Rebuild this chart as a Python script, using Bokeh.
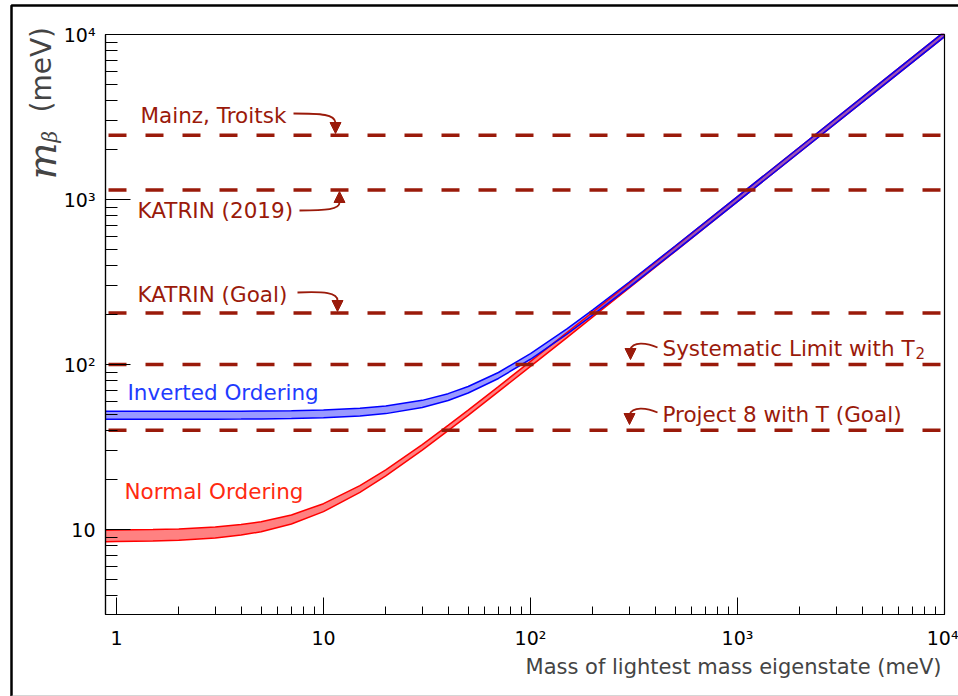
import math

from bokeh.embed import file_html
from bokeh.models import (Arrow, CustomJSTickFormatter, FixedTicker, BoxAnnotation,
                          Label, NormalHead, Range1d)
from bokeh.plotting import figure
from bokeh.resources import INLINE

# ---------------------------------------------------------------- data
# lightest neutrino mass (meV) at which the m_beta bands are sampled
m_light = [0.885, 1, 1.5, 2, 3, 4, 5, 7, 10, 15, 20, 30, 40, 50, 70, 100,
           150, 200, 300, 500, 1000, 2000, 5000, 9600, 10000]

# normal ordering band, lower / upper edge (meV)
no_low = [8.44, 8.46, 8.53, 8.62, 8.89, 9.25, 9.70, 10.80, 12.83, 16.80, 21.14,
          30.29, 39.70, 49.22, 68.42, 97.4, 145.7, 194.2, 291.1, 485.0, 970,
          1940, 4850, 9310, 9700]
no_high = [9.90, 9.92, 9.99, 10.08, 10.35, 10.71, 11.15, 12.26, 14.34, 18.46,
           23.02, 32.72, 42.75, 52.93, 73.47, 104.5, 156.3, 208.2, 312.2, 520,
           1040, 2080, 5200, 9990, 10000]

# inverted ordering band, lower / upper edge (meV)
io_low = [46.53, 46.53, 46.54, 46.56, 46.61, 46.68, 46.77, 47.01, 47.52, 48.74,
          50.40, 54.87, 60.58, 67.20, 82.31, 107.6, 152.8, 199.5, 294.7, 487.2,
          971.1, 1940.6, 4850, 9310, 9700]
io_high = [52.01, 52.01, 52.03, 52.04, 52.09, 52.17, 52.26, 52.51, 53.03, 54.29,
           56.00, 60.64, 66.59, 73.54, 89.46, 116.3, 164.4, 214.4, 316.3, 522.6,
           1041.3, 2080.6, 5200, 9990, 10000]

# experimental limits on m_beta (meV)
limit_names = ["Mainz, Troitsk", "KATRIN (2019)", "KATRIN (Goal)",
               "Systematic Limit with T", "Project 8 with T (Goal)"]
limit_values = [2450, 1140, 205, 100, 40]

x_major = [1, 10, 100, 1000, 10000]
x_minor = [k * d for d in (1, 10, 100, 1000) for k in range(2, 10)]
y_major = [10, 100, 1000, 10000]
y_minor = [k * d for d in (1, 10, 100, 1000) for k in range(2, 10) if k * d > 3.1]

# ---------------------------------------------------------------- geometry
W, H = 958, 696
X_LO, X_HI = 10 ** -0.053, 1e4               # axis extents of the plot box
Y_LO, Y_HI = 10 ** 0.485, 1e4
FL, FR, FT, FB = 105, 944, 34, 614           # plot box in page pixels


def px_x(px):
    """page pixel column -> x data value"""
    a, b = math.log10(X_LO), math.log10(X_HI)
    return 10 ** (a + (px - FL) / (FR - FL) * (b - a))


def px_y(py):
    """page pixel row -> y data value"""
    a, b = math.log10(Y_LO), math.log10(Y_HI)
    return 10 ** (b - (py - FT) / (FB - FT) * (b - a))


DARK_RED = "#9a1a0a"
SANS = "DejaVu Sans"
TXT = "21.5px"

# the canvas itself is the data frame; the axes sit on the plot box edges
p = figure(width=W, height=H, x_axis_type="log", y_axis_type="log",
           x_range=Range1d(px_x(0), px_x(W)), y_range=Range1d(px_y(H), px_y(0)),
           output_backend="svg", toolbar_location=None,
           min_border=0, min_border_left=0, min_border_right=0,
           min_border_top=0, min_border_bottom=0)
p.title.visible = False
p.grid.visible = False
p.outline_line_color = None
p.background_fill_color = "white"
p.border_fill_color = "white"

# ---------------------------------------------------------------- bands
p.varea(x=m_light, y1=no_low, y2=no_high, fill_color="#ff1a1a", fill_alpha=0.55)
p.varea(x=m_light, y1=io_low, y2=io_high, fill_color="#2020ff", fill_alpha=0.45)
for lo, hi, col in ((no_low, no_high, "#ff0000"), (io_low, io_high, "#0000ff")):
    p.line(m_light, lo, line_color=col, line_width=1.5)
    p.line(m_light, hi, line_color=col, line_width=1.5)

# ---------------------------------------------------------------- limits
p.segment(x0=[X_LO] * len(limit_values), x1=[X_HI] * len(limit_values),
          y0=limit_values, y1=limit_values, line_color=DARK_RED,
          line_width=3.5, line_dash="18 19", line_dash_offset=34)

# label text: left edge and vertical centre in page pixels
label_pos = [(140, 115), (137, 209.5), (137, 294), (662, 347.5), (662, 414)]
for name, (lx, ly) in zip(limit_names, label_pos):
    p.add_layout(Label(x=px_x(lx), y=px_y(ly), text=name, text_color=DARK_RED,
                       text_font=SANS, text_font_size=TXT,
                       text_align="left", text_baseline="middle"))
p.add_layout(Label(x=px_x(915), y=px_y(352), text="2", text_color=DARK_RED,
                   text_font=SANS, text_font_size="15px",
                   text_align="left", text_baseline="middle"))

# curved pointers: start, two control points, head base, head tip (page pixels)
pointers = [((293, 113), (322, 113), (334, 114), (335, 122), (335, 133)),
            ((299, 210), (326, 210), (339, 209), (339, 202), (339, 191)),
            ((297, 292), (324, 291), (337, 292), (337, 300), (337, 311)),
            ((657, 347), (646, 342), (632, 341), (630, 349), (630, 359)),
            ((657, 412), (646, 407), (632, 406), (629, 414), (629, 424))]
for (sx, sy), (ax0, ay0), (ax1, ay1), (bx, by), (tx, ty) in pointers:
    p.bezier(x0=[px_x(sx)], y0=[px_y(sy)], x1=[px_x(bx)], y1=[px_y(by)],
             cx0=[px_x(ax0)], cy0=[px_y(ay0)], cx1=[px_x(ax1)], cy1=[px_y(ay1)],
             line_color=DARK_RED, line_width=1.8)
    p.add_layout(Arrow(x_start=px_x(bx), y_start=px_y(by), x_end=px_x(tx), y_end=px_y(ty),
                       line_color=DARK_RED, line_width=1.5,
                       end=NormalHead(size=11, fill_color=DARK_RED, line_color=DARK_RED)))

# ordering labels
p.add_layout(Label(x=px_x(127), y=px_y(392), text="Inverted Ordering", text_color="#1f3cff",
                   text_font=SANS, text_font_size=TXT, text_baseline="middle"))
p.add_layout(Label(x=px_x(124), y=px_y(491), text="Normal Ordering", text_color="#ff2a10",
                   text_font=SANS, text_font_size=TXT, text_baseline="middle"))

# ---------------------------------------------------------------- axes
sup_fmt = CustomJSTickFormatter(code="""
const e = Math.round(Math.log10(tick));
const sup = {2: "\\u00b2", 3: "\\u00b3", 4: "\\u2074"};
return e <= 1 ? String(Math.round(tick)) : "10" + sup[e];
""")

xax, yax = p.xaxis[0], p.yaxis[0]
xax.fixed_location = Y_LO
xax.bounds = (X_LO, X_HI)
yax.fixed_location = X_LO
yax.bounds = (Y_LO, Y_HI)
for ax, major, minor, tin, tmin in ((xax, x_major, x_minor, 17, 8),
                                    (yax, y_major, y_minor, 25, 12)):
    ax.ticker = FixedTicker(ticks=major, minor_ticks=minor)
    ax.formatter = sup_fmt
    ax.major_tick_in = tin
    ax.major_tick_out = 0
    ax.minor_tick_in = tmin
    ax.minor_tick_out = 0
    ax.axis_line_color = "black"
    ax.axis_line_width = 1.2
    ax.major_tick_line_color = "black"
    ax.minor_tick_line_color = "black"
    ax.major_label_text_font = SANS
    ax.major_label_text_font_size = "19px"
    ax.major_label_text_color = "black"
xax.major_label_standoff = 12
yax.major_label_standoff = 10

# plot box
p.add_layout(BoxAnnotation(left=X_LO, right=X_HI, bottom=Y_LO, top=Y_HI,
                           fill_alpha=0, line_color="black", line_alpha=1,
                           line_width=1.2, line_dash="solid"))

# axis titles
p.add_layout(Label(x=px_x(941), y=px_y(666), text="Mass of lightest mass eigenstate (meV)",
                   text_font=SANS, text_font_size="21px", text_align="right",
                   text_baseline="middle"))
p.add_layout(Label(x=px_x(42), y=px_y(179), text="m", angle=math.pi / 2,
                   text_font="DejaVu Serif", text_font_style="italic", text_font_size="39px",
                   text_baseline="middle"))
p.add_layout(Label(x=px_x(49), y=px_y(142), text="\u03b2", angle=math.pi / 2,
                   text_font="DejaVu Serif", text_font_style="italic", text_font_size="20px",
                   text_baseline="middle"))
p.add_layout(Label(x=px_x(40.5), y=px_y(112), text="(meV)", angle=math.pi / 2,
                   text_font=SANS, text_font_size="28px", text_baseline="middle"))

# page frame: dark left and top edge, light bottom rule
p.line(x=[px_x(11), px_x(11), px_x(1200)], y=[px_y(700), px_y(5), px_y(5)],
       line_color="black", line_width=2.5)
p.line(x=[px_x(11), px_x(1200)], y=[px_y(695.5), px_y(695.5)],
       line_color="#aaaaaa", line_width=1)

open("out.html", "w").write(file_html(p, INLINE))
